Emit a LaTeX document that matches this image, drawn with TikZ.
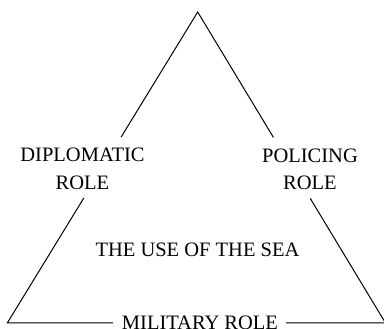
\documentclass[tikz,border=0pt]{standalone}
\usepackage{fontspec}
\setmainfont{Liberation Serif}
\usetikzlibrary{calc}
\begin{document}
\begin{tikzpicture}[x=1pt,y=-1pt,
  side/.style={line width=1pt,black},
  lbl/.style={anchor=base,inner sep=0pt,font=\fontsize{20.5}{24}\selectfont}]
\useasboundingbox (0,0) rectangle (384,329);
\clip (0,0) rectangle (384,329);
\coordinate (A) at (197.7,12);
\coordinate (B) at (7.3,323);
\coordinate (C) at (385.5,323);
% gap ends
\coordinate (L1) at ($(A)!0.402!(B)$);
\coordinate (L2) at ($(A)!0.598!(B)$);
\coordinate (R1) at ($(A)!0.403!(C)$);
\coordinate (R2) at ($(A)!0.599!(C)$);
\coordinate (M1) at ($(B)!0.2795!(C)$);
\coordinate (M2) at ($(B)!0.737!(C)$);
\draw[side] (L1) -- (A) -- (R1);
\draw[side] (L2) -- (B) -- (M1);
\draw[side] (R2) -- (C) -- (M2);
% labels
\node[lbl] (dip1) at (82.5,162) {DIPLOMATIC};
\node[lbl] (dip2) at (82.5,190) {ROLE};
\node[lbl] (pol1) at (310,162.3) {POLICING};
\node[lbl] (pol2) at (310,190) {ROLE};
\node[lbl] (use) at (197.5,256.7) {THE USE OF THE SEA};
\node[lbl] (mil) at (200,329.5) {MILITARY ROLE};
\end{tikzpicture}
\end{document}
